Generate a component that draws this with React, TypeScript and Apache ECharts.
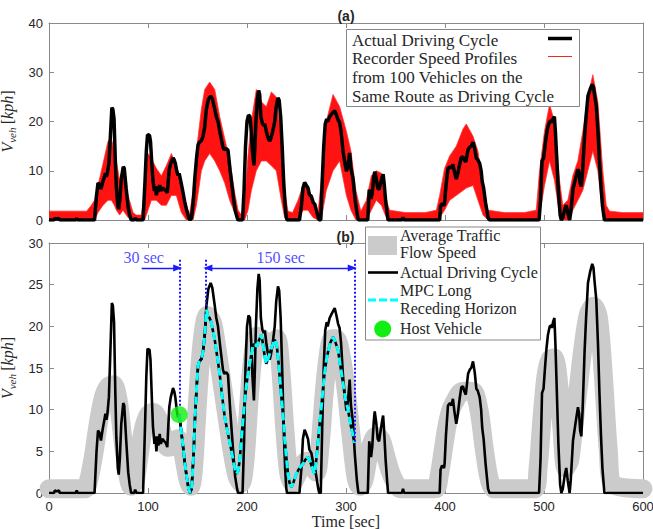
import React, { useEffect, useRef } from "react";
import * as echarts from "echarts";

// ---------- data ----------
const actualCycle: [number, number][] = [
  [0,0],[5,0],[6,0.3],[8,0.2],[10,0.3],[11,0],[27,0],[28,0.3],[29,0],[46,0],[48,5],[49.5,7.5],[51,7.2],[52.5,6.3],[54,7.5],[55.5,8.5],[57,9.5],[58,8.8],[59,9.5],[60.5,11.5],[62,17],[63.5,22.8],[64.5,22.5],[65.7,20.5],[67,12],[68,6.7],[69.5,3],[70.4,2.2],[71.5,4],[73,8.3],[75,10.8],[76,10.5],[78,6.3],[80,2.5],[81.5,1],[83,0],[86,0],[87,0.4],[88.5,0],[95,0],[97,8],[98.3,14],[99.5,17.3],[101.5,17.2],[102.5,16],[104,11],[105,8],[106.5,5.9],[107.5,6.8],[108.5,5],[109.5,6.8],[110.5,5.7],[111.8,7.1],[113,5.9],[114.5,6.5],[116.5,6.2],[118,6],[119.5,5.5],[120.5,8],[121.5,10.3],[123,11.5],[125.3,12.6],[126.5,12.2],[127.6,11.5],[129,10],[130.3,9.1],[131.5,9.4],[133,8],[135,6],[137,3.8],[139,2],[141,0.5],[142.5,0],[144,0.5],[146,4.5],[147.2,8.3],[149,12.5],[150.6,15.3],[152,15.8],[154,16.1],[155.6,17],[157.3,18.9],[159,22.5],[161,24.5],[163.3,25.2],[165,24.6],[167.3,22.6],[169,21],[170.7,20],[173,17.5],[175.7,14.8],[177,14.3],[179,14.5],[180.8,14.2],[183,10],[186,5],[188,2],[190,0.5],[191,0],[195.5,0],[197,6],[198.5,15],[200,20],[201.5,21.3],[203,21],[204.3,18],[205.5,14],[207,11.1],[208,15],[209,20],[210.5,24.5],[211.8,26.3],[212.8,25.5],[214,21],[215.5,19.6],[217,19.2],[218,19.5],[219.5,18],[221,16.8],[222.9,16],[224,16.5],[226,18],[228,20],[229.5,23],[231.3,24.8],[232.5,24.3],[234,21],[235.5,15],[237,8],[238.5,3],[239.7,0.5],[240.5,0],[253,0],[255,3],[256.5,6.5],[258.2,7.6],[259.5,7.2],[261.6,6.5],[263,5.2],[265,4.8],[267,3.5],[268.5,3.2],[270,2],[272,0.5],[273,0],[274.5,0],[276,8],[277.5,15],[279,19.5],[280.5,20.5],[281.5,20],[283.5,21],[285.5,21.5],[288.6,22.2],[290.5,21.2],[292,20.3],[293.5,19.8],[295,18],[297,14],[298.5,12],[300.4,9.9],[302,11],[303.7,13.6],[305,10.5],[307,8.5],[309,4.5],[311,1.5],[312.5,0],[322,0],[323.5,6.2],[325.3,4.3],[326.5,5.5],[328,8.5],[329,9.8],[330.5,8.5],[332,6.5],[333.4,6.2],[335,7.5],[336.7,8.8],[337.5,9.3],[338.5,7.5],[340,4],[341.5,1.5],[342.5,0],[356.5,0],[357.6,0.5],[358.7,0],[394.6,0],[395.5,2.8],[397,3.3],[399,3],[399.6,3.5],[401,7],[403,10.5],[405,10.8],[406.5,10.5],[408,11.3],[409.5,9.8],[411.4,8.3],[413,9.5],[415,11.5],[416.5,12.7],[418.2,12.8],[419.5,12.2],[421,11.8],[423.3,14.3],[425,14.8],[426.5,15],[428.3,15.8],[430,14.5],[431.7,12.5],[433,12.3],[435,11.5],[436.5,10],[437.6,7.8],[439,6.5],[441,3.5],[443.5,0.5],[445,0],[495,0],[496.5,4],[498,12],[499.5,12.5],[501,15],[502.4,17.2],[504,19],[505.8,20],[507.4,20.1],[508,19.8],[509.1,20.5],[510.5,21],[511.5,18],[513,12],[514.5,6],[516.3,1],[517.5,0],[519,0.5],[521,2.2],[522.5,3],[524,1.5],[525.9,0],[527,1.5],[529.3,6.3],[532,8.5],[534.3,10.3],[535.5,9.5],[536.5,7.5],[537.7,6.8],[539,10],[541,17],[542.5,21],[544.4,25.2],[546.5,26.5],[548.7,27.5],[550,27],[551,25.5],[552.8,23.2],[554.5,18],[556,12],[557.5,7],[559,3],[561,0],[600,0]
];

// envelope of the 100 recorded speed profiles
const redTime = [0,38,42.8,46,49.5,54.6,59.6,63,66,68,71.4,74.8,79.8,84.9,88,93.3,96.7,100,103.4,108.4,113.5,118.5,123.6,128.6,133.7,138.7,142.1,145.5,148.9,153.9,157.3,162.3,167.4,172.4,177.5,182.5,187.6,191,194.3,197.7,201,204.4,209.4,214.5,219.5,224.6,229.6,234.7,238,241.4,246,251.5,256.6,261.6,266.7,271.7,275,280.1,286.9,293.6,300.4,305,310,315,320.6,325.6,330.6,335.7,340.7,344,360,380,391.3,394.6,399.6,404.7,411.4,418.2,421.5,428.3,433.3,438.4,443.4,460,480,492.2,495.5,500.5,505.6,510.6,515.7,519,524.1,529.1,534.2,539.2,544.3,549.3,554.4,559.4,562.8,566.2,580,600];
const redUpper = [1.8,1.8,3,4,7,11.5,16,16.5,14,12,8,10.5,5,1.5,1,1,6,13.5,12.5,10.5,9,11,13.5,11,7,3,1.2,6,14,22.5,26.5,28,26.5,21,16.5,12.2,5.5,2,1,4,13,20,26.5,24,23,26,25,16,6,1.8,1.5,4,7,6.5,4,1.5,8,20,25.5,23,18,14,6,1.8,4,9,10,9.5,4,2,1.5,1.5,2,5,10.5,13,15,18.5,19.5,17,14,6,2,1.5,1.5,2,10,18,23.5,20,8,3,4,9,12,18,25,29.5,24,10,3,1.8,1.5,1.5];
const redLower = [0,0,0,0,1.5,3,4,4,3,2,1,2,0.5,0,0,0,0,2,4,4,3,3,5,5,1.5,0,0,0,3,10,12,13.5,12,10,7.5,4,1.4,0,0,0,2,6,10,12,12,11,10,4,0.5,0,0,0,2,2,0.5,0,0,6,10,12,5,2,0,0,0,2,4,3,0.5,0,0,0,0,0.5,2,4,5,6,6.5,7,4,1,0,0,0,0,1,7,12,8,1,0,0,2,4,6,10,14,10,1,0,0,0,0];

const trafficFlow: [number, number][] = [
  [0,0.5],[36,0.5],[40,1.5],[45,4.5],[50,8.5],[55,11.5],[60,12.8],[65,13],[70,11],[75,6],[80,2],[83,0.8],[87,1.5],[91,4.5],[95,7.5],[100,9.3],[105,9.7],[110,9],[115,7],[120,5.5],[125,5.7],[130,6.5],[135,5],[140,1.8],[143,0.8],[146,3],[150,11],[155,18.5],[160,21.3],[165,20.5],[170,17],[175,13],[180,9],[185,5],[190,2],[194,1.2],[198,4],[202,11],[206,16.5],[210,18.8],[215,18.5],[220,17.5],[225,17.8],[230,18.5],[234,15],[238,8],[242,2.5],[246,1.2],[250,2],[255,3.2],[260,3.8],[265,3.5],[270,2.5],[274,6],[278,12],[282,16.5],[286,18.5],[290,18.5],[295,16.5],[300,12.5],[305,7],[310,2],[314,0.8],[318,1.5],[322,4],[326,6],[330,6.8],[335,6.5],[340,4.5],[345,2.5],[350,1.2],[355,0.5],[390,0.5],[394,2],[398,5],[402,8],[406,10],[410,11],[415,12],[420,12.2],[425,12.2],[430,12],[435,9.5],[440,5],[445,1.5],[450,0.5],[490,0.5],[494,3],[498,9],[502,14],[506,16],[510,16.2],[514,14],[518,8],[522,3],[526,4],[530,8],[535,13],[540,18],[545,21.5],[550,22.4],[555,21],[560,14],[565,5],[570,1],[600,0.5]
];

const mpcHorizon: [number, number][] = [
  [131.5,9.4],[133,8],[135,6],[137,3.8],[139,2],[141,0.5],[142.5,0],[144,0.5],[146,4.5],[147.2,8.3],[149,12.5],[150.6,15.3],[152,15.8],[154,16.1],[155.6,17],[157.3,18.9],[159,22],[160.6,21.2],[162.3,21],[164,20.4],[167.4,18.4],[170,16.3],[172.4,14.3],[175,11.5],[177.5,9.1],[181,7],[184.2,5.1],[187,3.3],[189.2,2.3],[191,2.6],[192.6,3.9],[195,7.5],[197.7,11.1],[200,13.5],[202.7,15.5],[205,17],[206.1,17.8],[208,17.8],[210,17.6],[212,18.3],[214.5,19],[216,18],[218,16.3],[219.5,15.5],[221,16],[222.9,16.7],[225,17.5],[228,18.4],[230,17.8],[232,15.5],[234,12.5],[236.3,9.5],[238,6.5],[240,4],[241.4,2.3],[243,1.2],[244.8,0.7],[247,1.3],[249.8,2.3],[253,3],[256.6,3.5],[259,4],[261.6,4.3],[264,3.7],[266,3],[268.4,2.3],[270,4],[273.4,8.3],[276,11.5],[278,14],[280.1,15.9],[282,17],[284,18],[286.9,18.7],[289,18.2],[291.9,17.2],[294,15.5],[297,13.2],[299,11.5],[302,10],[305,8],[308.8,6]
];

const hostVehicle: [number, number] = [131.5, 9.4];
const historyStart = 93.6;   // start of "30 sec" arrow
const nowTime = 132;         // current time (end of history)
const horizonStart = 158;    // start of "150 sec" arrow
const horizonEnd = 308.8;    // end of prediction horizon
const arrowLevel = 27;
const guideTop = 28;
const annotations = [
  { name: "30 sec", value: [95.7, 28.3] },
  { name: "150 sec", value: [234, 28.3] },
];
const xTicks = { min: 0, max: 600, interval: 100 };
const yTopTicks = { min: 0, max: 40, interval: 10 };
const yBottomTicks = { min: 0, max: 30, interval: 5 };

// ---------- styles ----------
const AXIS_COLOR = "#8a8a8a";
const TEXT_COLOR = "#262626";
const SERIF = "Liberation Serif";
const SANS = "Liberation Sans";
const BLUE = "#1a1aff";
const CYAN = "#00ffff";
const GREEN = "#11ee11";
const GRAY = "#cbcbcb";

const tickLabel = { fontFamily: SANS, fontSize: 13, color: TEXT_COLOR };

function xAx(gridIndex: number, position: string, showLabel: boolean, name?: string) {
  return {
    type: "value", gridIndex, position, ...xTicks,
    axisLine: { show: true, onZero: false, lineStyle: { color: AXIS_COLOR, width: 1 } },
    axisTick: { show: true, inside: true, length: 5, lineStyle: { color: AXIS_COLOR } },
    axisLabel: { show: showLabel, margin: 7, ...tickLabel },
    splitLine: { show: false },
    name: name || "",
    nameLocation: "middle",
    nameGap: 19,
    nameTextStyle: { fontFamily: SERIF, fontSize: 16, lineHeight: 16, color: TEXT_COLOR },
  };
}

const vehName = "{it|V}{sub|veh} {rm|[}{it|kph}{rm|]}";
const vehRich = {
  it: { fontFamily: SERIF, fontStyle: "italic", fontSize: 16, color: TEXT_COLOR, lineHeight: 18, verticalAlign: "top" },
  sub: { fontFamily: SERIF, fontStyle: "italic", fontSize: 11, color: TEXT_COLOR, lineHeight: 10, verticalAlign: "bottom" },
  rm: { fontFamily: SERIF, fontSize: 16, color: TEXT_COLOR, lineHeight: 18, verticalAlign: "top" },
};

function yAx(gridIndex: number, position: string, ticks: any, showLabel: boolean) {
  return {
    type: "value", gridIndex, position, ...ticks,
    axisLine: { show: true, onZero: false, lineStyle: { color: AXIS_COLOR, width: 1 } },
    axisTick: { show: true, inside: true, length: 5, lineStyle: { color: AXIS_COLOR } },
    axisLabel: { show: showLabel, margin: 6, ...tickLabel },
    splitLine: { show: false },
    name: showLabel ? vehName : "",
    nameLocation: "middle",
    nameRotate: 90,
    nameGap: 20,
    nameTextStyle: { rich: vehRich },
  };
}

function buildOption() {
  const legendText = (x: number, y: number, text: string, size: number) => ({
    type: "text", x, y, z: 101,
    style: { text, fontFamily: SERIF, fontSize: size, fill: TEXT_COLOR, align: "left", verticalAlign: "middle" },
  });

  return {
    animation: false,
    grid: [
      { left: 49, top: 23, right: 10, height: 197, containLabel: false, outerBoundsMode: "none" },
      { left: 49, top: 243, right: 10, height: 250, containLabel: false, outerBoundsMode: "none" },
    ],
    xAxis: [
      xAx(0, "bottom", false),
      xAx(0, "top", false),
      xAx(1, "bottom", true, "Time [sec]"),
      xAx(1, "top", false),
    ],
    yAxis: [
      yAx(0, "left", yTopTicks, true),
      yAx(0, "right", yTopTicks, false),
      yAx(1, "left", yBottomTicks, true),
      yAx(1, "right", yBottomTicks, false),
    ],
    series: [
      // (a) band of the recorded profiles
      {
        type: "custom", xAxisIndex: 0, yAxisIndex: 0, data: [[0, 0]], silent: true, clip: true, z: 1,
        renderItem: (_params: any, api: any) => {
          const pts: number[][] = [];
          redTime.forEach((t, i) => pts.push(api.coord([t, redUpper[i]])));
          for (let i = redTime.length - 1; i >= 0; i--) pts.push(api.coord([redTime[i], redLower[i]]));
          return { type: "polygon", shape: { points: pts }, style: { fill: "#ff0000", opacity: 0.93, stroke: "#ff3030", lineWidth: 0.8 } };
        },
      },
      {
        type: "line", xAxisIndex: 0, yAxisIndex: 0, data: actualCycle, z: 3,
        showSymbol: false, lineStyle: { width: 3.5, color: "#000" }, silent: true,
      },
      // (b)
      {
        type: "line", xAxisIndex: 2, yAxisIndex: 2, data: trafficFlow, smooth: 0.3,
        showSymbol: false, lineStyle: { width: 19, color: GRAY, cap: "round", join: "round" }, silent: true,
      },
      {
        type: "line", xAxisIndex: 2, yAxisIndex: 2, data: actualCycle,
        showSymbol: false, lineStyle: { width: 2.6, color: "#000" }, silent: true,
      },
      {
        type: "line", xAxisIndex: 2, yAxisIndex: 2, data: mpcHorizon,
        showSymbol: false, lineStyle: { width: 2.6, color: "#000" }, silent: true,
      },
      {
        type: "line", xAxisIndex: 2, yAxisIndex: 2, data: mpcHorizon,
        showSymbol: false, lineStyle: { width: 3, color: CYAN, type: [8, 4] }, silent: true,
        markLine: {
          silent: true, animation: false, symbol: ["none", "none"], label: { show: false },
          lineStyle: { color: BLUE, width: 1.3, type: "solid" },
          emphasis: { disabled: true },
          data: [
            [{ coord: [historyStart, arrowLevel], symbol: "none" }, { coord: [nowTime - 2, arrowLevel], symbol: "triangle", symbolSize: [7, 9] }],
            [{ coord: [horizonStart + 2.5, arrowLevel], symbol: "triangle", symbolSize: [7, 9] }, { coord: [horizonEnd - 2.5, arrowLevel], symbol: "triangle", symbolSize: [7, 9] }],
            [{ coord: [nowTime, guideTop], lineStyle: { type: [2, 2], width: 2 } }, { coord: [nowTime, 10.4] }],
            [{ coord: [horizonStart, guideTop], lineStyle: { type: [2, 2], width: 2 } }, { coord: [horizonStart, 22.4] }],
            [{ coord: [horizonEnd, guideTop], lineStyle: { type: [2, 2], width: 2 } }, { coord: [horizonEnd, 6] }],
          ],
        },
      },
      {
        type: "scatter", xAxisIndex: 2, yAxisIndex: 2, data: annotations,
        symbolSize: 1, itemStyle: { color: "rgba(0,0,0,0)" }, silent: true,
        label: { show: true, position: "inside", formatter: "{b}", fontFamily: SERIF, fontSize: 16, color: BLUE },
      },
      {
        type: "scatter", xAxisIndex: 2, yAxisIndex: 2, data: [hostVehicle], z: 5,
        symbol: "circle", symbolSize: 17, itemStyle: { color: GREEN }, silent: true,
      },
    ],
    graphic: [
      { type: "text", x: 346, y: 16, z: 101, style: { text: "(a)", fontFamily: SANS, fontWeight: "bold", fontSize: 14, fill: TEXT_COLOR, align: "center", verticalAlign: "middle" } },
      { type: "text", x: 345.5, y: 236.5, z: 101, style: { text: "(b)", fontFamily: SANS, fontWeight: "bold", fontSize: 14, fill: TEXT_COLOR, align: "center", verticalAlign: "middle" } },
      // legend (a)
      { type: "rect", z: 100, shape: { x: 346.5, y: 29.5, width: 233, height: 77 }, style: { fill: "#fff", stroke: "#888", lineWidth: 1 } },
      legendText(352, 40.5, "Actual Driving Cycle", 17),
      legendText(352, 58.5, "Recorder Speed Profiles", 17),
      legendText(352, 77.5, "from 100 Vehicles on the", 17),
      legendText(352, 96, "Same Route as Driving Cycle", 17),
      { type: "line", z: 101, shape: { x1: 548, y1: 38.5, x2: 572, y2: 38.5 }, style: { stroke: "#000", lineWidth: 3.5 } },
      { type: "line", z: 101, shape: { x1: 548, y1: 56.5, x2: 572, y2: 56.5 }, style: { stroke: "#ff2020", lineWidth: 1 } },
      // legend (b)
      { type: "rect", z: 100, shape: { x: 365.5, y: 227, width: 175, height: 113 }, style: { fill: "#fff", stroke: "#888", lineWidth: 1 } },
      { type: "rect", z: 101, shape: { x: 368, y: 236, width: 29, height: 19 }, style: { fill: GRAY } },
      legendText(400, 235, "Average Traffic", 16),
      legendText(400, 252.5, "Flow Speed", 16),
      { type: "line", z: 101, shape: { x1: 368, y1: 272.5, x2: 398, y2: 272.5 }, style: { stroke: "#000", lineWidth: 2.6 } },
      legendText(400, 272.5, "Actual Driving Cycle", 16),
      { type: "line", z: 101, shape: { x1: 368, y1: 300, x2: 398, y2: 300 }, style: { stroke: CYAN, lineWidth: 3, lineDash: [8, 3] } },
      legendText(400, 290, "MPC Long", 16),
      legendText(400, 308.5, "Receding Horizon", 16),
      { type: "circle", z: 101, shape: { cx: 382.7, cy: 329, r: 8.5 }, style: { fill: GREEN } },
      legendText(400, 328.5, "Host Vehicle", 16),
    ],
  };
}

export default function App() {
  const ref = useRef<HTMLDivElement>(null);
  useEffect(() => {
    if (!ref.current) return;
    const chart = echarts.init(ref.current, undefined, { renderer: "svg" });
    chart.setOption(buildOption() as any);
    return () => chart.dispose();
  }, []);
  return (
    <div
      ref={ref}
      style={{ position: "fixed", left: 0, top: 0, width: 653, height: 529, background: "#fff" }}
    />
  );
}
